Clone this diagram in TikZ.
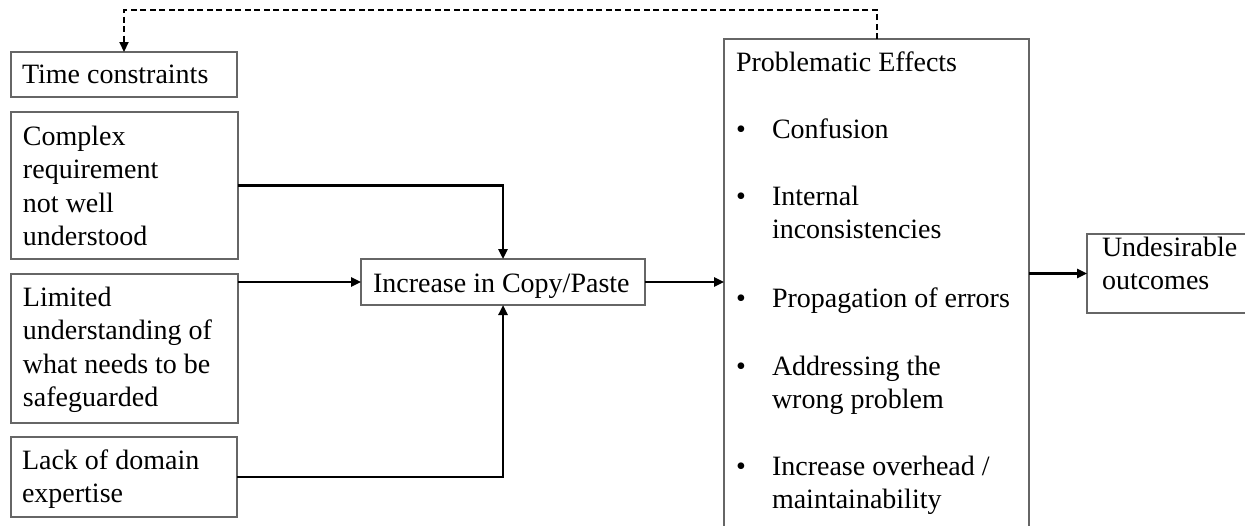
\documentclass[tikz,border=0pt]{standalone}
\usepackage{fontspec}
\setmainfont{Liberation Serif}
\usetikzlibrary{arrows.meta,fit}

\tikzset{
  box/.style={draw=black!60, line width=1.4pt, inner sep=0pt, outer sep=0pt},
  txt/.style={anchor=base west, inner sep=0pt, outer sep=0pt,
              font=\fontsize{28}{33.6}\selectfont},
  conn/.style={draw=black, line width=2.4pt,
               -{Triangle[length=10pt,width=9pt]}},
  feedback/.style={conn, line width=2.2pt, dash pattern=on 6pt off 3.5pt}
}

% draw a named rectangle between two corners given in picture units
\newcommand{\boxat}[3]{%
  \path (#2) coordinate (#1-nw) (#3) coordinate (#1-se);
  \node[box, fit=(#1-nw)(#1-se)] (#1) {};}

\begin{document}
\begin{tikzpicture}[x=1pt, y=-1pt]
  \useasboundingbox (0,0) rectangle (1245,525);

  % causes on the left
  \boxat{tc}{11,52}{237,97}
  \boxat{cx}{11,112}{238,259}
  \boxat{lim}{11,274}{238,423}
  \boxat{lack}{11,437}{237,517}

  % central step, effects and outcome
  \boxat{inc}{361,259}{645,305}
  \boxat{pe}{724,39}{1029,545}
  \boxat{und}{1087,234}{1265,313}

  % box texts
  \node[txt] (t-tc) at (22,83) {Time constraints};

  \node[txt] (t-cx1) at (23,145.0) {Complex};
  \node[txt] (t-cx2) at (23,178.6) {requirement};
  \node[txt] (t-cx3) at (23,212.2) {not well};
  \node[txt] (t-cx4) at (23,245.8) {understood};

  \node[txt] (t-lim1) at (23,306.0) {Limited};
  \node[txt] (t-lim2) at (23,339.6) {understanding of};
  \node[txt] (t-lim3) at (23,373.2) {what needs to be};
  \node[txt] (t-lim4) at (23,406.8) {safeguarded};

  \node[txt] (t-lack1) at (22,469.5) {Lack of domain};
  \node[txt] (t-lack2) at (22,502.5) {expertise};

  \node[txt] (t-inc) at (373,292.7) {Increase in Copy/Paste};

  \node[txt] (t-pe) at (736,71) {Problematic Effects};
  \node[txt] (b1) at (736,138) {•};
  \node[txt] (t-pe1) at (772,138) {Confusion};
  \node[txt] (b2) at (736,205) {•};
  \node[txt] (t-pe2) at (772,205) {Internal};
  \node[txt] (t-pe2b) at (772,238.6) {inconsistencies};
  \node[txt] (b3) at (736,307) {•};
  \node[txt] (t-pe3) at (772,307) {Propagation of errors};
  \node[txt] (b4) at (736,375) {•};
  \node[txt] (t-pe4) at (772,375) {Addressing the};
  \node[txt] (t-pe4b) at (772,408.6) {wrong problem};
  \node[txt] (b5) at (736,475) {•};
  \node[txt] (t-pe5) at (772,475) {Increase overhead /};
  \node[txt] (t-pe5b) at (772,508.6) {maintainability};

  \node[txt] (t-und1) at (1102,256) {Undesirable};
  \node[txt] (t-und2) at (1102,289) {outcomes};

  % connectors
  \draw[conn] (cx.east) -| (inc.north);
  \draw[conn] (lim.east |- inc.west) -- (inc.west);
  \draw[conn] (lack.east) -| (inc.south);
  \draw[conn] (inc.east) -- (inc.east -| pe.west);
  \draw[conn] (pe.east |- und.west) -- (und.west);

  % feedback loop from the effects back to the time constraints
  \coordinate (fb) at (877,10);
  \draw[feedback] (pe.north -| fb) -- (fb) -| (tc.north);
\end{tikzpicture}
\end{document}
